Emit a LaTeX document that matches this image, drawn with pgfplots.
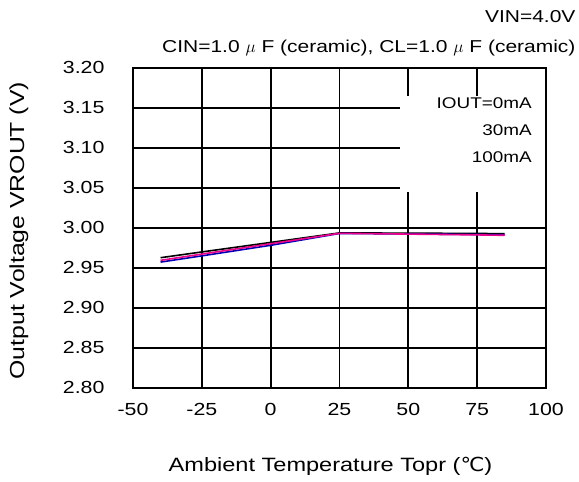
\documentclass[border=0pt]{standalone}
\usepackage{fontspec}
\setmainfont[FakeStretch=1.22]{Liberation Sans}
\newfontfamily\dejavu[FakeStretch=1.1]{DejaVu Sans}
\usepackage{pgfplots}
\pgfplotsset{compat=1.18}
\begin{document}
\begin{tikzpicture}
\begin{axis}[
  scale only axis, width=413pt, height=320pt,
  xmin=-50, xmax=100, ymin=2.80, ymax=3.20,
  xtick={-50,-25,0,25,50,75,100},
  ytick={2.80,2.85,2.90,2.95,3.00,3.05,3.10,3.15,3.20},
  /pgf/number format/assume math mode=true,
  yticklabel style={/pgf/number format/fixed, /pgf/number format/precision=2, /pgf/number format/fixed zerofill, xshift=-25pt},
  xticklabel style={yshift=-12pt},
  ticklabel style={font=\fontsize{17.5}{21}\selectfont},
  grid=major,
  grid style={black, line width=1.8pt},
  axis line style={black, line width=1.8pt},
  major tick length=7pt,
  tick style={black, line width=1.8pt},
  tick align=inside,
  xlabel={Ambient Temperature Topr ({\dejavu ℃})},
  ylabel={Output Voltage VROUT (V)},
  xlabel style={font=\fontsize{19.3}{23}\selectfont, at={(axis description cs:0.5,0)}, anchor=center, yshift=-79pt, xshift=-9pt},
  every axis y label/.append style={font=\fontsize{20.3}{24}\selectfont, at={(axis description cs:0,0.5)}, anchor=center, rotate=0, yshift=114pt, xshift=-3pt},
  legend image code/.code={},
  legend cell align=right,
  legend style={at={(rel axis cs:0.9976,0.911)}, anchor=north east, draw=none, fill=white,
    inner xsep=13pt, inner ysep=0pt,
    font=\fontsize{15.5}{19}\selectfont, row sep=12pt,
    nodes={inner sep=0pt, text height=12pt, text depth=3pt, text width=119pt, align=right}},
  clip=false,
]
\addplot[black, line width=1.6pt] coordinates {(-40,2.9625) (-25,2.9697) (0,2.9816) (25,2.9935) (50,2.9932) (75,2.9928) (85,2.9925)};
\addlegendentry{IOUT=0mA}
\addplot[blue!70!black, line width=1.6pt] coordinates {(-40,2.9570) (-25,2.9648) (0,2.9780) (25,2.9928) (50,2.9922) (75,2.9915) (85,2.9912)};
\addlegendentry{30mA}
\addplot[magenta, line width=1.6pt] coordinates {(-40,2.9592) (-25,2.9670) (0,2.9800) (25,2.9930) (50,2.9920) (75,2.9910) (85,2.9905)};
\addlegendentry{100mA}
\addlegendimage{empty legend}
\addlegendentry{}
\end{axis}
\node[anchor=east, font=\fontsize{17.2}{20}\selectfont] at (446pt,370.7pt) {VIN=4.0V};
\node[anchor=east, font=\fontsize{17.2}{20}\selectfont] at (446pt,339.7pt) {CIN=1.0 $\mu$ F (ceramic), CL=1.0 $\mu$ F (ceramic)};
\pgfresetboundingbox
\useasboundingbox (-133pt,-94.3pt) rectangle (446pt,387.7pt);
\end{tikzpicture}
\end{document}
